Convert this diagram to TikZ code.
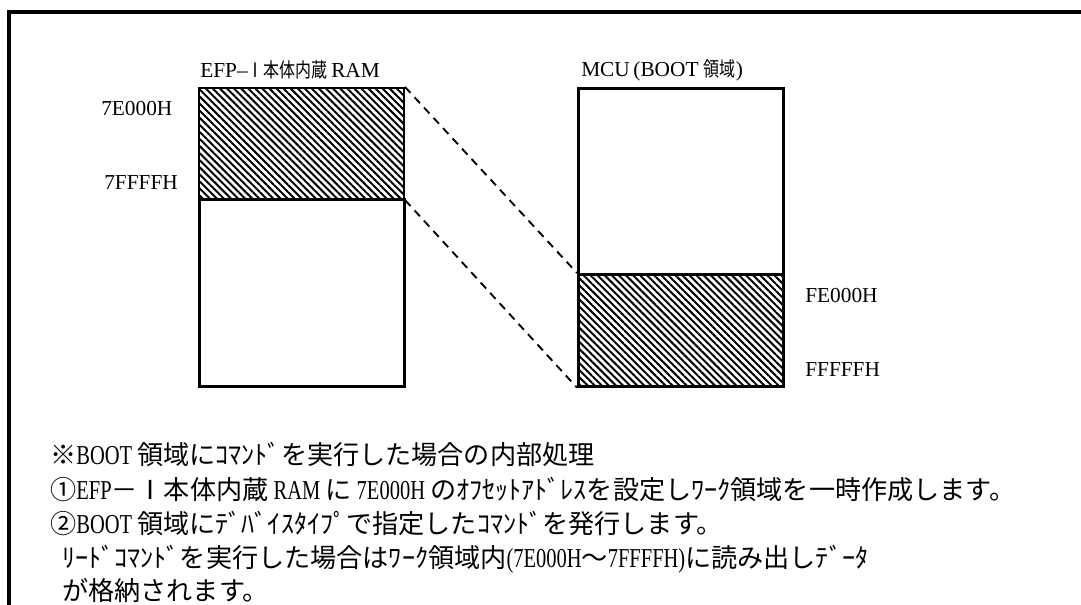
\documentclass[tikz,border=0pt]{standalone}
\usepackage{fontspec}
\setmainfont{Liberation Serif}
\newfontfamily\latn[FakeStretch=0.75]{Liberation Serif}
\newfontfamily\jp{Noto Sans CJK JP}
\newfontfamily\jpn[FakeStretch=0.8]{Noto Sans CJK JP}
\usetikzlibrary{patterns.meta}
\newcommand\jtxt[1]{{\jp\fontsize{19.6}{19.6}\selectfont #1}}
\newcommand\jsm[1]{{\jpn\fontsize{15}{15}\selectfont #1}}
\newcommand\notefont{\latn\fontsize{20.5}{20.5}\selectfont}
\tikzset{
  frame/.style={line width=3pt, line join=miter, line cap=rect},
  blk/.style={draw, line width=2pt, inner sep=0pt, anchor=north west, minimum width=153.75pt},
  hatch/.style={pattern={Lines[angle=-45,distance=3.75pt,line width=1.5pt]}},
  lbl/.style={inner sep=0pt, anchor=west, font=\fontsize{16}{16}\selectfont},
  txt/.style={inner sep=0pt, anchor=base west, font=\notefont},
  link/.style={line width=1.4pt, dash pattern=on 6pt off 4.5pt},
}
\begin{document}
\begin{tikzpicture}[x=0.75pt,y=-0.75pt]
\path[use as bounding box] (0,0) rectangle (1081,604);
% frame
\draw[frame] (9,606) -- (9,11.5) -- (1083,11.5);
% memory blocks
\node[blk, hatch, minimum height=83.25pt] (ramw) at (198,87) {};
\node[blk, minimum height=140.25pt] (ramf) at (198,198) {};
\node[blk, minimum height=139.5pt] (mcuf) at (577,87) {};
\node[blk, hatch, minimum height=84pt] (mcuw) at (577,273) {};
% connectors
\draw[link] (ramw.north east) -- (mcuw.north west);
\draw[link] (ramw.south east) -- (mcuw.south west);
% titles
\node[lbl] (t1) at (200,70) {EFP–\jsm{Ⅰ本体内蔵}\,RAM};
\node[lbl] (t2) at (581,70) {MCU\,(BOOT \jsm{領域})};
% addresses
\node[lbl] (a1) at (101,109) {7E000H};
\node[lbl] (a2) at (104,183) {7FFFFH};
\node[lbl] (a3) at (805,296) {FE000H};
\node[lbl] (a4) at (805,370) {FFFFFH};
% notes
\node[txt] (l1) at (50,464) {\jtxt{※}BOOT \jtxt{領域にｺﾏﾝﾄﾞを実行した場合の内部処理}};
\node[txt] (l2) at (50,499) {\jtxt{①}EFP\jtxt{－Ⅰ本体内蔵} RAM \jtxt{に} 7E000H \jtxt{のｵﾌｾｯﾄｱﾄﾞﾚｽを設定しﾜｰｸ領域を一時作成します。}};
\node[txt] (l3) at (50,533) {\jtxt{②}BOOT \jtxt{領域にﾃﾞﾊﾞｲｽﾀｲﾌﾟで指定したｺﾏﾝﾄﾞを発行します。}};
\node[txt] (l4) at (62,567) {\jtxt{ﾘｰﾄﾞｺﾏﾝﾄﾞを実行した場合はﾜｰｸ領域内}(7E000H\jtxt{～}7FFFFH)\jtxt{に読み出しﾃﾞｰﾀ}};
\node[txt] (l5) at (62,600) {\jtxt{が格納されます。}};
\end{tikzpicture}
\end{document}
